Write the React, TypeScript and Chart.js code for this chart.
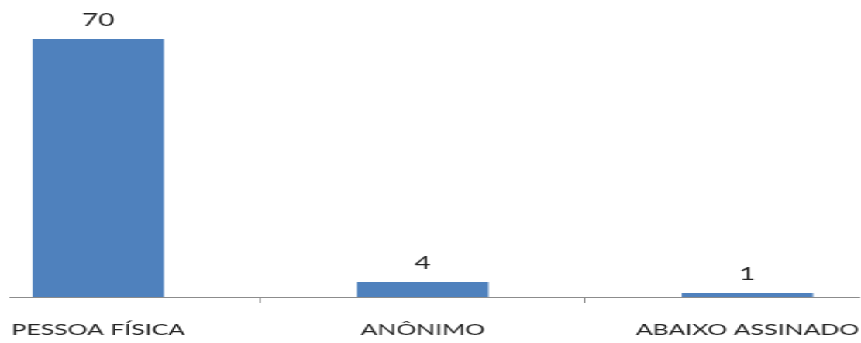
import React, { useEffect, useRef } from "react";
import { Chart, registerables } from "chart.js";

Chart.register(...registerables);

const categories: string[] = ["PESSOA FÍSICA", "ANÔNIMO", "ABAIXO ASSINADO"];
const values: number[] = [70, 4, 1];

const S = 1.55; // horizontal stretch of the reference
const W = 861 / S;
const XMIN = -0.2716;
const XMAX = 2.3457;

const valueLabels = {
  id: "valueLabels",
  afterDatasetsDraw(chart: any) {
    const ctx = chart.ctx;
    const meta = chart.getDatasetMeta(0);
    ctx.save();
    ctx.font = "18px Lato";
    ctx.fillStyle = "#222";
    ctx.textAlign = "center";
    ctx.textBaseline = "alphabetic";
    meta.data.forEach((el: any, i: number) => {
      ctx.fillText(String(values[i]), el.x, el.y - 13);
    });
    ctx.restore();
  },
};

export default function App() {
  const ref = useRef<HTMLCanvasElement>(null);
  useEffect(() => {
    if (!ref.current) return;
    const tickVals: number[] = [];
    for (let i = 0; i < categories.length; i++) {
      tickVals.push(i);
      if (i < categories.length - 1) tickVals.push(i + 0.5);
    }
    const chart = new Chart(ref.current, {
      type: "bar",
      data: {
        datasets: [
          {
            data: values.map((v, i) => ({ x: i, y: v })),
            backgroundColor: "#4F81BD",
            borderWidth: 0,
            barThickness: 130 / S,
          },
        ],
      },
      options: {
        animation: false,
        responsive: true,
        maintainAspectRatio: false,
        devicePixelRatio: 1,
        layout: { padding: { left: 10 / S, right: 3 / S, top: 21, bottom: 4 } },
        plugins: { legend: { display: false }, tooltip: { enabled: false } },
        scales: {
          x: {
            type: "linear",
            offset: false,
            min: XMIN,
            max: XMAX,
            afterBuildTicks: (axis: any) => {
              axis.ticks = tickVals.map((v) => ({ value: v }));
            },
            ticks: {
              autoSkip: false,
              maxRotation: 0,
              padding: 0,
              color: "#222",
              font: { family: "Lato", size: 16, lineHeight: 1.125 },
              callback: (v: any) =>
                Number.isInteger(v) ? ["", categories[v]] : "",
            },
            grid: {
              offset: false,
              drawOnChartArea: false,
              drawTicks: true,
              tickLength: 6,
              color: (c: any) =>
                c.tick && c.tick.value % 1 !== 0 ? "#8c8c8c" : "rgba(0,0,0,0)",
            },
            border: { display: true, color: "#8c8c8c", width: 1 },
          },
          y: { display: false, min: 0, max: 75 },
        },
      },
      plugins: [valueLabels],
    } as any);
    return () => chart.destroy();
  }, []);
  return (
    <div
      style={{
        position: "fixed",
        left: 0,
        top: 0,
        width: W + "px",
        height: "343px",
        transform: `scaleX(${S})`,
        transformOrigin: "0 0",
        background: "#fff",
      }}
    >
      <canvas ref={ref} />
    </div>
  );
}
